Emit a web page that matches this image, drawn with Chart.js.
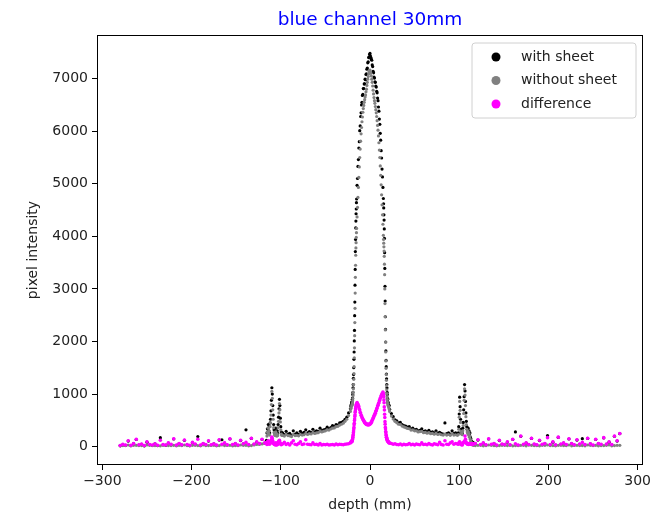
<!DOCTYPE html>
<html>
<head>
<meta charset="utf-8">
<script src="https://cdn.jsdelivr.net/npm/chart.js@4.4.1/dist/chart.umd.min.js"></script>
<style>
  html, body { margin: 0; padding: 0; background: #fff; }
  canvas { display: block; }
</style>
</head>
<body>
<canvas id="depthChart" width="664" height="519"></canvas>
<script>
// depth (mm) shared by the three series
const depth = [
  -280, -277, -274, -271, -268, -265, -262, -259, -256, -253,
  -250, -247, -244, -241, -238, -235, -232, -229, -226, -223,
  -220, -217, -214, -211, -208, -205, -202, -199, -196, -193,
  -190, -187, -184, -181, -178, -175, -172, -169, -166, -163,
  -160, -157, -154, -151, -148, -145, -142, -139, -136, -133,
  -130, -127, -124, -121, -118,
  -116, -115.5, -115, -114.5, -114, -113.5, -113, -112.5, -112, -111.5,
  -111, -110.5, -110, -109.5, -109, -108.5, -108, -107.5, -107, -106.5,
  -106, -105.5, -105, -104.5, -104, -103.5, -103, -102.5, -102, -101.5,
  -101, -100.5, -100, -99.5, -99,
  -98, -96, -94, -92, -90, -88, -86, -84, -82, -80,
  -78, -76, -74, -72, -70, -68, -66, -64, -62, -60,
  -58, -56, -54, -52, -50, -48, -46, -44, -42, -40,
  -38, -36, -34, -32, -30, -28, -26, -24,
  -22, -21.5, -21, -20.5, -20, -19.8, -19.6, -19.4, -19.2, -19,
  -18.8, -18.6, -18.4, -18.2, -18, -17.8, -17.6, -17.4, -17.2, -17,
  -16.8, -16.6, -16.4, -16.2, -16, -15.8, -15.6, -15.4, -15.2, -15,
  -14.5, -14, -13.5, -13, -12.5, -12, -11.5, -11, -10.5, -10,
  -9.5, -9, -8.5, -8, -7.5, -7, -6.5, -6, -5.5, -5,
  -4.5, -4, -3.5, -3, -2.5, -2, -1.5, -1, -0.5, 0,
  0.5, 1, 1.5, 2, 2.5, 3, 3.5, 4, 4.5, 5,
  5.5, 6, 6.5, 7, 7.5, 8, 8.5, 9, 9.5, 10,
  10.5, 11, 11.5, 12, 12.5, 13, 13.5, 14, 14.5,
  15, 15.2, 15.4, 15.6, 15.8, 16, 16.2, 16.4, 16.6, 16.8,
  17, 17.2, 17.4, 17.6, 17.8, 18, 18.2, 18.4, 18.6, 18.8,
  19, 19.2, 19.4, 19.6, 19.8, 20, 20.5, 21, 21.5, 22,
  24, 26, 28, 30, 32, 34, 36, 38, 40, 42,
  44, 46, 48, 50, 52, 54, 56, 58, 60, 62,
  64, 66, 68, 70, 72, 74, 76, 78, 80, 82,
  84, 86, 88, 90, 92, 94, 96, 98,
  99, 99.5, 100, 100.5, 101, 101.5, 102, 102.5, 103, 103.5,
  104, 104.5, 105, 105.5, 106, 106.5, 107, 107.5, 108, 108.5,
  109, 109.5, 110, 110.5, 111, 111.5, 112, 112.5, 113, 113.5,
  114, 114.5, 115, 115.5, 116,
  118, 121, 124, 127, 130, 133, 136, 139, 142, 145,
  148, 151, 154, 157, 160, 163, 166, 169, 172, 175,
  178, 181, 184, 187, 190, 193, 196, 199, 202, 205,
  208, 211, 214, 217, 220, 223, 226, 229, 232, 235,
  238, 241, 244, 247, 250, 253, 256, 259, 262, 265,
  268, 271, 274, 277, 280
];

const withSheet = [
  15, 40, 25, 105, 20, 55, 135, 30, 45, 15,
  85, 35, 25, 50, 20, 170, 35, 25, 65, 40,
  145, 25, 55, 30, 120, 35, 20, 75, 45, 190,
  25, 55, 35, 105, 30, 50, 25, 125, 130, 65,
  30, 145, 35, 55, 25, 115, 50, 320, 35, 155,
  45, 85, 55, 135, 65,
  120, 260, 340, 280, 420, 300, 380, 260, 450, 520,
  680, 880, 1120, 1000, 780, 600, 420, 320, 260, 300,
  240, 350, 260, 230, 300, 250, 420, 560, 720, 900,
  780, 540, 380, 280, 250,
  260, 230, 290, 240, 250, 220, 300, 240, 260, 235,
  290, 250, 270, 320, 260, 285, 270, 330, 280, 300,
  290, 350, 305, 320, 330, 370, 340, 360, 400, 380,
  420, 410, 450, 460, 480, 520, 560, 640,
  720, 770, 800, 840, 860, 900, 925, 990, 1030, 1120,
  1180, 1300, 1370, 1500, 1660, 1800, 2010, 2210, 2490, 2750,
  3070, 3370, 3710, 3940, 4160, 4290, 4430, 4520, 4640, 4710,
  4970, 5100, 5330, 5460, 5680, 5800, 6010, 6100, 6280, 6350,
  6500, 6550, 6680, 6700, 6810, 6810, 6900, 6900, 6990, 6980,
  7080, 7090, 7180, 7200, 7300, 7320, 7400, 7410, 7460, 7480,
  7430, 7400, 7370, 7350, 7260, 7230, 7140, 7110, 7030, 7010,
  6940, 6930, 6860, 6840, 6760, 6730, 6630, 6580, 6460, 6380,
  6230, 6130, 5960, 5830, 5630, 5490, 5280, 5130, 4930,
  4720, 4620, 4540, 4410, 4310, 4140, 3960, 3690, 3390, 3050,
  2770, 2470, 2230, 1990, 1820, 1640, 1520, 1380, 1290, 1180,
  1120, 1030, 990, 920, 900, 850, 830, 790, 780, 710,
  630, 570, 510, 490, 450, 460, 420, 400, 390, 370,
  380, 340, 350, 320, 330, 300, 310, 340, 290, 300,
  280, 310, 270, 280, 260, 300, 255, 270, 250, 240,
  450, 245, 260, 240, 300, 250, 260, 240,
  260, 380, 620, 940, 760, 520, 330, 270, 300, 250,
  350, 460, 700, 950, 1180, 1060, 860, 640, 480, 380,
  330, 290, 350, 260, 300, 220, 260, 180, 150, 110,
  90, 70, 60, 80, 50,
  55, 125, 35, 65, 30, 145, 40, 55, 25, 115,
  45, 35, 85, 30, 135, 280, 25, 195, 40, 65,
  35, 155, 45, 30, 115, 40, 55, 210, 35, 85,
  30, 175, 45, 65, 35, 145, 55, 30, 125, 45,
  150, 35, 155, 50, 25, 135, 55, 40, 165, 45,
  85, 35, 195, 105, 245
];

const withoutSheet = [
  25, 20, 20, 30, 15, 25, 25, 20, 20, 15,
  30, 25, 20, 20, 25, 15, 25, 30, 20, 20,
  25, 15, 25, 20, 30, 20, 15, 25, 25, 20,
  15, 30, 20, 20, 25, 25, 15, 20, 30, 20,
  25, 25, 15, 20, 20, 30, 25, 25, 15, 20,
  30, 40, 40, 50, 60,
  60, 200, 280, 240, 350, 250, 300, 220, 380, 450,
  600, 800, 1050, 920, 700, 520, 360, 270, 220, 250,
  210, 280, 220, 200, 240, 210, 360, 480, 640, 820,
  700, 470, 320, 240, 215,
  215, 200, 230, 210, 205, 190, 230, 210, 215, 205,
  230, 220, 225, 250, 230, 245, 240, 265, 250, 260,
  265, 290, 280, 290, 300, 320, 315, 335, 350, 355,
  380, 385, 410, 425, 445, 480, 520, 590,
  670, 715, 740, 775, 790, 805, 830, 870, 915, 970,
  1030, 1100, 1180, 1280, 1390, 1520, 1690, 1880, 2110, 2360,
  2630, 2920, 3220, 3450, 3640, 3780, 3880, 3980, 4070, 4150,
  4370, 4550, 4740, 4930, 5120, 5320, 5500, 5660, 5810, 5950,
  6070, 6180, 6270, 6360, 6430, 6490, 6550, 6600, 6650, 6690,
  6750, 6800, 6870, 6930, 6990, 7040, 7090, 7130, 7140, 7160,
  7130, 7100, 7050, 6990, 6930, 6860, 6780, 6710, 6640, 6580,
  6530, 6470, 6410, 6350, 6280, 6200, 6110, 6020, 5910, 5780,
  5640, 5500, 5340, 5160, 4980, 4790, 4600, 4410, 4230,
  4020, 3940, 3870, 3800, 3720, 3620, 3470, 3270, 3000, 2720,
  2470, 2220, 1990, 1800, 1630, 1490, 1370, 1260, 1160, 1080,
  1010, 950, 900, 850, 820, 790, 775, 745, 715, 670,
  580, 525, 480, 455, 425, 420, 390, 375, 360, 345,
  340, 315, 320, 300, 300, 280, 285, 290, 265, 270,
  255, 265, 245, 250, 235, 255, 230, 240, 225, 220,
  240, 220, 230, 215, 245, 220, 225, 215,
  230, 330, 560, 860, 690, 460, 290, 240, 260, 225,
  300, 400, 630, 880, 1100, 980, 780, 570, 420, 330,
  280, 250, 290, 220, 250, 180, 200, 140, 100, 70,
  50, 40, 30, 40, 25,
  20, 25, 25, 15, 20, 30, 25, 20, 15, 20,
  25, 25, 20, 30, 15, 20, 20, 25, 25, 15,
  30, 25, 20, 20, 15, 25, 25, 30, 20, 20,
  15, 25, 25, 20, 20, 30, 15, 25, 25, 20,
  20, 15, 30, 25, 20, 25, 15, 20, 20, 25,
  30, 15, 20, 25, 25
];

const difference = [
  20, 45, 30, 110, 25, 60, 140, 35, 50, 20,
  90, 40, 30, 55, 25, 120, 40, 30, 70, 45,
  150, 30, 60, 35, 125, 40, 25, 80, 50, 140,
  30, 60, 40, 110, 35, 55, 30, 130, 45, 70,
  35, 150, 40, 60, 30, 120, 55, 80, 40, 160,
  50, 90, 60, 140, 70,
  70, 40, 90, 50, 110, 60, 80, 45, 90, 70,
  100, 130, 180, 150, 110, 80, 60, 45, 40, 55,
  30, 70, 40, 30, 60, 40, 80, 90, 110, 120,
  80, 60, 45, 35, 50,
  50, 80, 40, 60, 30, 70, 110, 45, 35, 60,
  90, 40, 50, 130, 45, 40, 35, 70, 40, 45,
  30, 60, 30, 40, 35, 45, 30, 35, 40, 30,
  50, 35, 45, 40, 35, 45, 50, 55,
  70, 85, 90, 100, 95, 125, 135, 165, 175, 205,
  225, 265, 295, 335, 365, 415, 445, 495, 525, 575,
  605, 655, 675, 715, 725, 755, 765, 795, 795, 815,
  840, 810, 805, 775, 760, 715, 695, 650, 640, 595,
  585, 555, 545, 515, 510, 485, 480, 455, 455, 435,
  440, 420, 430, 415, 425, 410, 425, 415, 430, 425,
  445, 445, 470, 475, 505, 515, 545, 555, 585, 595,
  625, 635, 670, 685, 720, 735, 770, 785, 820, 835,
  870, 885, 920, 935, 965, 975, 1005, 1015, 1040,
  1010, 975, 945, 885, 835, 755, 695, 615, 555, 475,
  425, 365, 335, 285, 265, 225, 210, 180, 175, 150,
  145, 125, 125, 105, 110, 95, 95, 75, 80, 65,
  60, 45, 55, 40, 35, 50, 30, 45, 35, 40,
  60, 35, 45, 30, 50, 40, 35, 70, 40, 45,
  35, 60, 40, 30, 55, 45, 35, 80, 40, 30,
  110, 45, 40, 70, 90, 45, 60, 50,
  45, 60, 80, 90, 70, 55, 40, 35, 50, 30,
  60, 70, 80, 90, 100, 200, 140, 90, 70, 60,
  50, 45, 60, 40, 55, 45, 60, 50, 55, 45,
  50, 40, 60, 45, 55,
  60, 130, 40, 70, 35, 150, 45, 60, 30, 120,
  50, 40, 90, 35, 140, 55, 30, 200, 45, 70,
  40, 160, 50, 35, 120, 45, 60, 170, 40, 90,
  35, 180, 50, 70, 40, 150, 60, 35, 130, 50,
  80, 40, 160, 55, 30, 140, 60, 45, 170, 50,
  90, 40, 200, 110, 250
];

const xTicks = [-300, -200, -100, 0, 100, 200, 300];
const yTicks = [0, 1000, 2000, 3000, 4000, 5000, 6000, 7000];
const seriesLabels = ['with sheet', 'without sheet', 'difference'];
const seriesColors = ['#000000', '#808080', '#ff00ff'];

[withSheet, withoutSheet, difference].forEach(arr => {
  if (arr.length !== depth.length) throw new Error('length mismatch ' + arr.length + ' vs ' + depth.length);
});

const toPoints = values => depth.map((x, i) => ({ x: x, y: values[i] }));
const minus = v => (v < 0 ? '\u2212' + Math.abs(v) : String(v));
const font = 'DejaVu Sans';

// axes box, title, axis labels and legend drawn like matplotlib
const decorPlugin = {
  id: 'decor',
  afterDraw(chart) {
    const { ctx, chartArea: a } = chart;
    ctx.save();
    ctx.strokeStyle = '#000';
    ctx.lineWidth = 1;
    ctx.strokeRect(a.left + 0.5, a.top + 0.5, a.right - a.left - 1, a.bottom - a.top - 1);

    const cx = (a.left + a.right) / 2;
    ctx.fillStyle = 'blue';
    ctx.font = '18.5px "' + font + '"';
    ctx.textAlign = 'center';
    ctx.textBaseline = 'alphabetic';
    ctx.fillText('blue channel 30mm', cx, 25);

    ctx.fillStyle = '#222';
    ctx.font = '14px "' + font + '"';
    ctx.textBaseline = 'middle';
    ctx.fillText('depth (mm)', cx, 505);
    ctx.save();
    ctx.translate(33, (a.top + a.bottom) / 2);
    ctx.rotate(-Math.PI / 2);
    ctx.fillText('pixel intensity', 0, 0);
    ctx.restore();

    // legend
    const bx = 472, by = 43, bw = 164, bh = 75, r = 3;
    ctx.beginPath();
    ctx.moveTo(bx + r, by);
    ctx.arcTo(bx + bw, by, bx + bw, by + bh, r);
    ctx.arcTo(bx + bw, by + bh, bx, by + bh, r);
    ctx.arcTo(bx, by + bh, bx, by, r);
    ctx.arcTo(bx, by, bx + bw, by, r);
    ctx.closePath();
    ctx.fillStyle = 'rgba(255,255,255,0.8)';
    ctx.fill();
    ctx.strokeStyle = '#d0d0d0';
    ctx.stroke();

    ctx.textAlign = 'left';
    seriesLabels.forEach((label, i) => {
      const y = 57 + i * 23.5;
      ctx.beginPath();
      ctx.arc(496, y, 4.5, 0, Math.PI * 2);
      ctx.fillStyle = seriesColors[i];
      ctx.fill();
      ctx.fillStyle = '#222';
      ctx.fillText(label, 521, y);
    });
    ctx.restore();
  }
};

const axisGrid = { drawOnChartArea: false, drawTicks: true, tickLength: 5, color: '#000', lineWidth: 1 };
const tickFont = { family: font, size: 14 };

new Chart(document.getElementById('depthChart'), {
  type: 'scatter',
  data: {
    datasets: [
      { label: seriesLabels[0], data: toPoints(withSheet), backgroundColor: seriesColors[0], borderColor: seriesColors[0], order: 3 },
      { label: seriesLabels[1], data: toPoints(withoutSheet), backgroundColor: seriesColors[1], borderColor: seriesColors[1], order: 2 },
      { label: seriesLabels[2], data: toPoints(difference), backgroundColor: seriesColors[2], borderColor: seriesColors[2], order: 1, pointRadius: 1.8 }
    ]
  },
  options: {
    responsive: false,
    animation: false,
    devicePixelRatio: 1,
    layout: { padding: { top: 35, right: 21, left: 0, bottom: 0 } },
    elements: { point: { radius: 1.6, borderWidth: 0, hoverRadius: 1.6 } },
    plugins: { legend: { display: false }, tooltip: { enabled: false } },
    scales: {
      x: {
        type: 'linear',
        min: -306,
        max: 306,
        afterBuildTicks: s => { s.ticks = xTicks.map(v => ({ value: v })); },
        afterFit: s => { s.height = 54; },
        grid: axisGrid,
        border: { display: false },
        ticks: { font: tickFont, color: '#222', padding: 3, autoSkip: false, maxRotation: 0, callback: v => minus(v) }
      },
      y: {
        type: 'linear',
        min: -350,
        max: 7830,
        afterBuildTicks: s => { s.ticks = yTicks.map(v => ({ value: v })); },
        afterFit: s => { s.width = 97; },
        grid: axisGrid,
        border: { display: false },
        ticks: { font: tickFont, color: '#222', padding: 4, autoSkip: false, callback: v => minus(v) }
      }
    }
  },
  plugins: [decorPlugin]
});
</script>
</body>
</html>
